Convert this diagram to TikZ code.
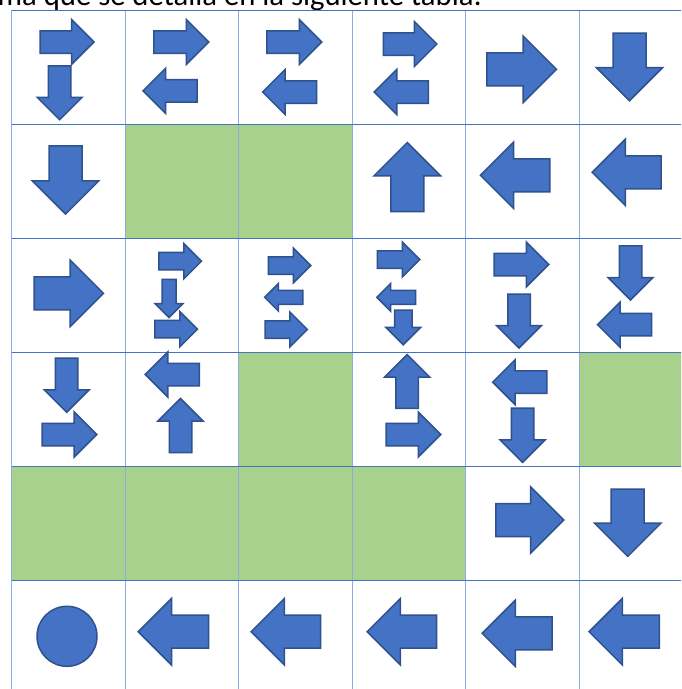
\documentclass[tikz,border=0pt]{standalone}
\usepackage{fontspec}
\newfontfamily\bodyfont{Carlito}
\usetikzlibrary{shapes.arrows}
\definecolor{arrowblue}{HTML}{4472C4}
\definecolor{arrowedge}{HTML}{2F528F}
\definecolor{cellgreen}{HTML}{A9D18E}
\definecolor{gridblue}{HTML}{4472C4}
\definecolor{gridlight}{HTML}{8FAADC}

\begin{document}
\begin{tikzpicture}[
    x=1pt, y=-1pt,
    blk/.style={single arrow, draw=arrowedge, fill=arrowblue, line width=1.5pt,
                inner xsep=0pt, anchor=tail, minimum height=#1},
    arrbig/.style={blk=#1, inner ysep=15.75pt, single arrow head extend=16.75pt},
    arrmid/.style={blk=#1, inner ysep=10.5pt, single arrow head extend=11.25pt},
    arrsml/.style={blk=#1, inner ysep=8pt, single arrow head extend=8.75pt},
    arrtny/.style={blk=#1, inner ysep=6.25pt, single arrow head extend=6.75pt},
    toE/.style={rotate=0}, toW/.style={rotate=180},
    toN/.style={rotate=90}, toS/.style={rotate=270},
    goaldot/.style={circle, draw=arrowedge, fill=arrowblue, line width=1.5pt,
                    minimum size=60pt, inner sep=0pt},
    hline/.style={draw=gridblue, line width=1pt},
    vline/.style={draw=gridlight, line width=1pt}
  ]

  \useasboundingbox (0,0) rectangle (681,689);
  \fill[white] (0,0) rectangle (681,689);
  \clip (0,0) rectangle (681,689);

  % Text above the table
  \node[font=\bodyfont\fontsize{30.7}{37}\selectfont, anchor=base east, inner sep=0pt]
    (intro) at (482,5.5) {forma que se detalla en la siguiente tabla:};

  % Blocked cells
  \foreach \c/\r in {1/1, 2/1, 2/3, 5/3, 0/4, 1/4, 2/4, 3/4}
    \fill[cellgreen] (11.7+113.55*\c, 10+114*\r) rectangle ++(113.55,114);

  % Grid
  \foreach \c in {0,...,6}
    \draw[vline] (11.7+113.55*\c, 10) -- (11.7+113.55*\c, 694);
  \foreach \r in {0,...,6}
    \draw[hline] (11.7, 10+114*\r) -- (693, 10+114*\r);

  % Row 1
  \node[arrmid=54, toE] (r1c1a) at (39.3,42) {};
  \node[arrmid=54, toS] (r1c1b) at (59.6,65) {};
  \node[arrmid=55, toE] (r1c2a) at (153,42) {};
  \node[arrmid=54, toW] (r1c2b) at (197.8,90.8) {};
  \node[arrmid=55, toE] (r1c3a) at (266,42) {};
  \node[arrmid=54, toW] (r1c3b) at (317.4,92) {};
  \node[arrmid=53.5, toE] (r1c4a) at (382.6,44) {};
  \node[arrmid=54, toW] (r1c4b) at (429,92) {};
  \node[arrbig=69.7, toE] (r1c5) at (486,69.3) {};
  \node[arrbig=67.7, toS] (r1c6) at (629.5,32.3) {};

  % Row 2
  \node[arrbig=68.3, toS] (r2c1) at (65.6,145) {};
  \node[arrbig=69, toN] (r2c4) at (407.3,212.3) {};
  \node[arrbig=69.5, toW] (r2c5) at (550.7,175.3) {};
  \node[arrbig=69, toW] (r2c6) at (661.9,172.3) {};

  % Row 3
  \node[arrbig=69.4, toE] (r3c1) at (33.3,293.3) {};
  \node[arrsml=42.7, toE] (r3c2a) at (158,261.2) {};
  \node[arrtny=38, toS] (r3c2b) at (169,278.7) {};
  \node[arrsml=42.7, toE] (r3c2c) at (154,329.2) {};
  \node[arrsml=42.3, toE] (r3c3a) at (267.7,265.5) {};
  \node[arrtny=38.3, toW] (r3c3b) at (303.7,297.3) {};
  \node[arrsml=42.3, toE] (r3c3c) at (264.3,329.5) {};
  \node[arrsml=42.3, toE] (r3c4a) at (376.7,259.5) {};
  \node[arrtny=38.7, toW] (r3c4b) at (416.3,297.3) {};
  \node[arrsml=34.7, toS] (r3c4c) at (403.3,309.3) {};
  \node[arrmid=54.7, toE] (r3c5a) at (493.3,264.5) {};
  \node[arrmid=54, toS] (r3c5b) at (519,293.3) {};
  \node[arrmid=54.3, toS] (r3c6a) at (630.5,245) {};
  \node[arrmid=54, toW] (r3c6b) at (652.3,324.7) {};

  % Row 4
  \node[arrmid=54.3, toS] (r4c1a) at (66.7,357.3) {};
  \node[arrmid=54.7, toE] (r4c1b) at (41.3,434.5) {};
  \node[arrmid=54, toW] (r4c2a) at (200,374.5) {};
  \node[arrmid=54, toN] (r4c2b) at (180.5,453.3) {};
  \node[arrmid=53.7, toN] (r4c4a) at (407.2,409) {};
  \node[arrmid=54.7, toE] (r4c4b) at (385.3,434.5) {};
  \node[arrmid=54.3, toW] (r4c5a) at (547.7,382.2) {};
  \node[arrmid=54.3, toS] (r4c5b) at (522.6,407.3) {};

  % Row 5
  \node[arrbig=68, toE] (r5c5) at (495,520) {};
  \node[arrbig=67.3, toS] (r5c6) at (627.7,488.3) {};

  % Row 6
  \node[goaldot] (goal) at (67,636.3) {};
  \node[arrbig=70.3, toW] (r6c2) at (209.3,631.7) {};
  \node[arrbig=69.5, toW] (r6c3) at (321.4,631.7) {};
  \node[arrbig=69.5, toW] (r6c4) at (437.4,631.7) {};
  \node[arrbig=70, toW] (r6c5) at (552.9,633.3) {};
  \node[arrbig=70.4, toW] (r6c6) at (660.2,631.7) {};

\end{tikzpicture}
\end{document}
